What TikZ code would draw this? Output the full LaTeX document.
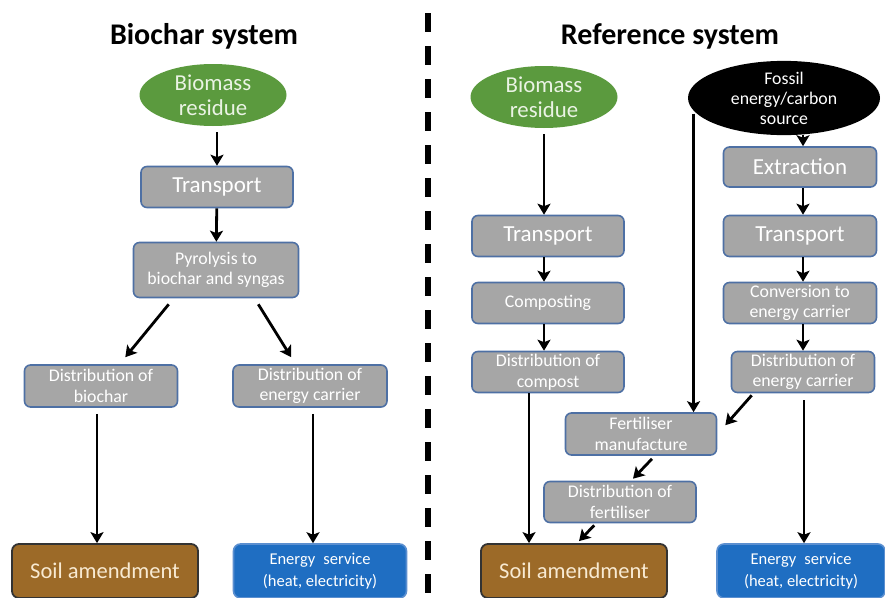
\documentclass[tikz,border=0pt]{standalone}
\usepackage{fontspec}
\setmainfont{Carlito}
\usetikzlibrary{positioning,arrows.meta,calc,shapes.geometric}
\definecolor{boxGray}{HTML}{A6A6A6}
\definecolor{boxEdge}{HTML}{4E70A4}
\definecolor{residueGreen}{HTML}{5B9A3E}
\definecolor{residueText}{HTML}{EAF3E4}
\definecolor{soilBrown}{HTML}{9C6A28}
\definecolor{soilText}{HTML}{F8EAD2}
\definecolor{serviceBlue}{HTML}{1F6EC2}
\definecolor{serviceEdge}{HTML}{5B8FD0}

\begin{document}
\begin{tikzpicture}[x=1pt, y=-1pt, >={Stealth[length=11pt,width=13pt,inset=2.5pt]},
    procbox/.style={draw=boxEdge, line width=1.6pt, fill=boxGray, rounded corners=6pt,
      text=white, align=center, inner sep=0pt},
    bigtxt/.style={font=\fontsize{23}{25}\selectfont},
    smalltxt/.style={font=\fontsize{17.8}{20.5}\selectfont},
    source/.style={ellipse, draw=none, align=center, inner sep=0pt},
    soilbox/.style={draw=black!80, line width=1.8pt, fill=soilBrown, rounded corners=7pt,
      text=soilText, font=\fontsize{22.5}{24}\selectfont, minimum width=186pt, minimum height=54pt},
    servicebox/.style={draw=serviceEdge, line width=1.6pt, fill=serviceBlue, rounded corners=7pt,
      text=white, align=center, font=\fontsize{16.5}{22}\selectfont, minimum height=54pt},
    flow/.style={->, line width=2.8pt}]
  \useasboundingbox (0,0) rectangle (885,597);
  % titles and the dashed split between the two systems
  \node[font=\bfseries\fontsize{30}{32}\selectfont] (titleL) at (204,36) {Biochar system};
  \node[font=\bfseries\fontsize{30}{32}\selectfont] (titleR) at (670,36) {Reference system};
  \draw[line width=6.5pt, dash pattern=on 19pt off 14pt] (428,13) -- (428,600);

  % Biochar system
  \node[source, fill=residueGreen, text=residueText, font=\fontsize{22.8}{25}\selectfont,
    minimum width=147pt, minimum height=62pt] (bioL) at (213,95) {Biomass\\residue};
  \node[procbox, bigtxt, minimum width=152pt, minimum height=41pt] (transL) at (217,187) {Transport};
  \node[procbox, font=\fontsize{17.8}{20}\selectfont, minimum width=165pt, minimum height=55pt] (pyro) at (216,270) {Pyrolysis to\\biochar and syngas};
  \node[procbox, smalltxt, minimum width=153pt, minimum height=42pt] (distChar) at (101,386) {Distribution of\\biochar};
  \node[procbox, smalltxt, minimum width=154pt, minimum height=42pt] (distEnL) at (310,386) {Distribution of\\energy carrier};
  \node[soilbox] (soilL) at (105,571) {Soil amendment};
  \node[servicebox, minimum width=173pt] (servL) at (320,571) {Energy\enspace service\\(heat, electricity)};

  \coordinate (charOut) at ($(distChar.south)+(-4,6)$);
  \coordinate (enOutL) at ($(distEnL.south)+(3,6)$);
  \draw[flow, shorten <=6pt] (bioL.south -| transL.north) -- (transL.north);
  \draw[flow] (transL) -- (pyro);
  \draw[flow] ($(pyro.south west)+(36,6)$) -- ($(distChar.north east)+(-53,-7)$);
  \draw[flow] ($(pyro.south east)+(-41,6)$) -- ($(distEnL.north west)+(59,-7)$);
  \draw[flow] (charOut) -- (charOut |- soilL.north);
  \draw[flow] (enOutL) -- (enOutL |- servL.north);

  % Reference system, biomass branch
  \node[source, fill=residueGreen, text=residueText, font=\fontsize{22.8}{25}\selectfont,
    minimum width=147pt, minimum height=62pt] (bioR) at (544,97) {Biomass\\residue};
  \node[procbox, bigtxt, minimum width=152pt, minimum height=41pt] (transR) at (548,236) {Transport};
  \node[procbox, smalltxt, minimum width=152pt, minimum height=41pt] (compo) at (548,303) {Composting};
  \node[procbox, smalltxt, minimum width=152pt, minimum height=41pt] (distComp) at (548,372) {Distribution of\\compost};

  % Reference system, fossil branch
  \node[source, fill=black, text=white, font=\fontsize{17.8}{20}\selectfont,
    minimum width=192pt, minimum height=60pt] (fossil) at (784,98) {Fossil\\energy/carbon\\source};
  \node[procbox, bigtxt, minimum width=153pt, minimum height=40pt] (extract) at (800,167) {Extraction};
  \node[procbox, bigtxt, minimum width=153pt, minimum height=41pt] (transF) at (800,236) {Transport};
  \node[procbox, smalltxt, minimum width=153pt, minimum height=41pt] (convert) at (800,303) {Conversion to\\energy carrier};
  \node[procbox, smalltxt, minimum width=143pt, minimum height=41pt] (distEnR) at (803,372) {Distribution of\\energy carrier};
  \node[procbox, smalltxt, minimum width=151pt, minimum height=42pt] (fert) at (641,434) {Fertiliser\\manufacture};
  \node[procbox, smalltxt, minimum width=152pt, minimum height=41pt] (distFert) at (620,502) {Distribution of\\fertiliser};
  \node[soilbox] (soilR) at (574,571) {Soil amendment};
  \node[servicebox, minimum width=168pt] (servR) at (801,571) {Energy\enspace service\\(heat, electricity)};

  \coordinate (compOut) at ($(distComp.south)+(-19,0)$);
  \coordinate (enOutR) at ($(distEnR.south)+(1,7)$);
  \coordinate (fossilOut) at ($(fossil.188)+(0,3)$);
  \draw[flow, shorten <=6pt] (bioR.south) -- (transR.north -| bioR.south);
  \draw[flow] (transR.south -| bioR.south) -- (compo.north -| bioR.south);
  \draw[flow] (compo.south -| bioR.south) -- (distComp.north -| bioR.south);
  \draw[flow] (compOut) -- (compOut |- soilR.north);
  \draw[flow] (fossil.south -| distEnR.north) -- (extract.north -| distEnR.north);
  \draw[flow] (extract.south -| distEnR.north) -- (transF.north -| distEnR.north);
  \draw[flow] (transF.south -| distEnR.north) -- (convert.north -| distEnR.north);
  \draw[flow] (convert.south -| distEnR.north) -- (distEnR.north);
  \draw[flow] (fossilOut) -- (fossilOut |- fert.north);
  \draw[flow] ($(distEnR.south west)+(21,2)$) -- ($(fert.north east)+(8,13)$);
  \draw[flow] ($(fert.south)+(11,3)$) -- ($(distFert.north)+(13,-2)$);
  \draw[flow] ($(distFert.south west)+(51,2)$) -- ($(soilR.north)+(5,-2)$);
  \draw[flow] (enOutR) -- (enOutR |- servR.north);
\end{tikzpicture}
\end{document}
